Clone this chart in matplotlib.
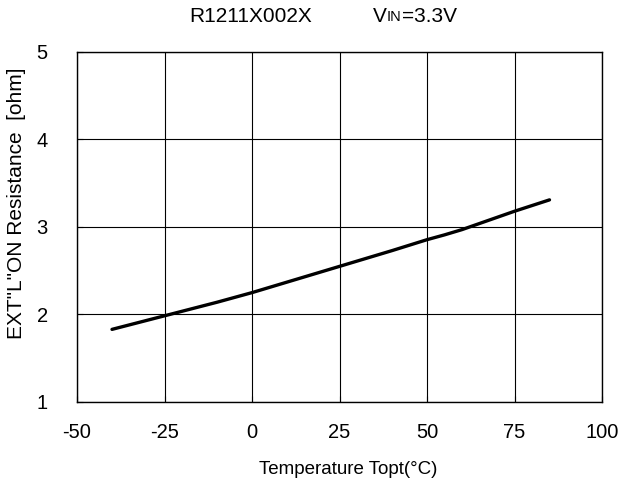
import matplotlib
matplotlib.use("Agg")
import matplotlib.pyplot as plt

plt.rcParams['font.family'] = ['Liberation Sans', 'DejaVu Sans']
plt.rcParams['axes.unicode_minus'] = False

# data
temp = [-40, -25, -10, 0, 10, 25, 40, 50, 55, 60, 75, 85]
ron = [1.83, 1.985, 2.14, 2.25, 2.37, 2.55, 2.73, 2.855, 2.91, 2.97, 3.18, 3.31]

xticks = [-50, -25, 0, 25, 50, 75, 100]
yticks = [1, 2, 3, 4, 5]

fig = plt.figure(figsize=(6.23, 4.90), dpi=100)
ax = fig.add_axes([0.1236, 0.1796, 0.8427, 0.7143])

ax.plot(temp, ron, color='black', linewidth=2.4, solid_capstyle='round')

ax.set_xlim(-50, 100)
ax.set_ylim(1, 5)
ax.set_xticks(xticks)
ax.set_yticks(yticks)
ax.grid(True, color='black', linewidth=0.8)
ax.tick_params(direction='in', length=4, labelsize=14.5)
ax.tick_params(axis='x', pad=15)
ax.tick_params(axis='y', pad=21)
for s in ax.spines.values():
    s.set_linewidth(1.0)

ax.set_xlabel('Temperature Topt(°C)', fontsize=13.5, va='center')
ax.xaxis.set_label_coords(0.516, -0.194)
ax.set_ylabel('EXT"L"ON Resistance  [ohm]', fontsize=15, va='center')
ax.yaxis.set_label_coords(-0.116, 0.567)

# title: part number and VIN with small "IN"
ty = 1 - 17 / 490
fig.text(251 / 623, ty, 'R1211X002X', fontsize=15, ha='center', va='center')
fig.canvas.draw()
r = fig.canvas.get_renderer()
t1 = fig.text(373 / 623, ty, 'V', fontsize=15, ha='left', va='center')
bb = t1.get_window_extent(r)
t2 = fig.text(bb.x1 / 623, bb.y0 / 490 + 0.006, 'IN', fontsize=10.5, ha='left', va='bottom')
bb2 = t2.get_window_extent(r)
fig.text(bb2.x1 / 623, ty, '=3.3V', fontsize=15, ha='left', va='center')

fig.savefig('out.png', dpi=100)
